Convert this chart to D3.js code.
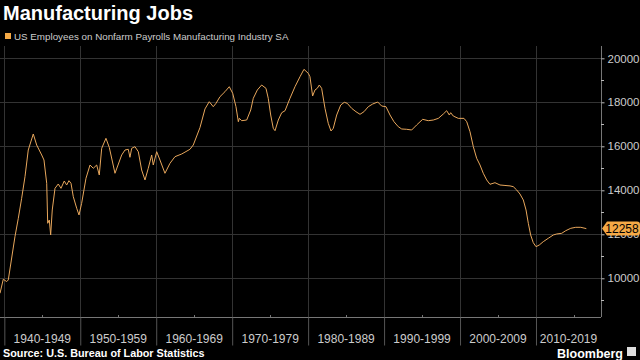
<!DOCTYPE html>
<html><head><meta charset="utf-8">
<script src="https://cdn.jsdelivr.net/npm/d3@7"></script>
<style>
html,body{margin:0;padding:0;background:#000;}
svg{display:block;}
</style></head>
<body>
<svg id="chart" width="640" height="360"></svg>
<script>
const title = "Manufacturing Jobs";
const seriesName = "US Employees on Nonfarm Payrolls Manufacturing Industry SA";
const source = "Source: U.S. Bureau of Labor Statistics";
const lastLabel = "12258";

const years = [1939.43,1939.86,1940.31,1940.52,1941.40,1941.84,1942.28,1942.72,1943.15,1943.81,1944.26,1944.92,1945.22,1945.58,1945.71,1945.92,1946.10,1946.31,1946.67,1947.10,1947.46,1947.89,1948.21,1948.51,1948.78,1949.08,1949.53,1949.83,1950.18,1950.75,1951.28,1951.71,1952.16,1952.50,1952.82,1953.38,1953.82,1954.57,1955.45,1955.89,1956.32,1956.54,1956.77,1957.20,1957.64,1958.08,1958.52,1958.95,1959.40,1959.61,1960.06,1960.49,1961.15,1961.81,1962.47,1963.35,1964.44,1964.88,1965.76,1966.42,1966.98,1967.51,1967.87,1968.39,1969.05,1969.62,1970.07,1970.50,1970.81,1970.94,1971.25,1971.91,1972.44,1972.78,1973.31,1973.88,1974.45,1974.75,1975.07,1975.41,1975.64,1976.07,1976.52,1976.96,1977.61,1978.27,1978.93,1979.45,1980.02,1980.24,1980.59,1980.90,1981.20,1981.47,1981.78,1982.22,1982.65,1983.01,1983.31,1983.76,1984.29,1984.76,1985.15,1985.73,1986.30,1986.83,1987.35,1987.92,1988.50,1989.16,1989.68,1990.25,1990.78,1991.30,1991.87,1992.32,1992.98,1993.63,1994.29,1995.08,1995.82,1996.48,1997.14,1997.80,1998.24,1998.59,1998.77,1999.11,1999.77,2000.52,2000.88,2001.31,2001.75,2002.19,2002.63,2003.06,2003.51,2003.94,2004.60,2005.26,2005.92,2006.58,2007.01,2007.46,2007.89,2008.33,2008.69,2008.99,2009.30,2009.64,2010.00,2010.44,2010.96,2011.62,2012.28,2012.73,2013.39,2013.92,2014.58,2015.24,2015.90,2016.63];
const employees = [9319,9955,9850,9924,11892,12727,13636,14618,15832,16560,16059,15605,15378,14318,12500,12650,11969,13105,14090,14287,14090,14423,14240,14437,14318,13709,13182,12878,13409,14546,15150,15000,15150,14696,15909,16364,15950,14773,15605,15832,15864,15500,15909,15982,15755,14923,14469,15000,15605,15150,15755,15378,14773,15227,15529,15650,15864,16060,16850,17700,18028,17800,17955,18255,18482,18710,18409,17800,17118,17270,17165,17195,17650,18182,18560,18787,18636,18182,17423,16818,16710,17195,17527,17618,18182,18710,19164,19500,19318,19164,18286,18560,18636,18787,18636,17727,17045,16696,16818,17423,17877,18000,17955,17727,17573,17455,17573,17800,17923,18014,17832,17800,17423,17118,16890,16787,16773,16741,16970,17227,17165,17195,17270,17468,17618,17423,17527,17377,17270,17270,17118,16664,15982,15455,15150,14773,14469,14273,14346,14241,14220,14200,14165,14014,13832,13560,13105,12500,11969,11620,11437,11514,11665,11818,11969,12014,12045,12164,12273,12318,12318,12258];

const decadeStarts = [1940,1950,1960,1970,1980,1990,2000,2010];
const decadeLabels = ["1940-1949","1950-1959","1960-1969","1970-1979","1980-1989","1990-1999","2000-2009","2010-2019"];
const yTicks = [10000,12000,14000,16000,18000,20000];
const yMinorTicks = [9000,11000,13000,15000,17000,19000];

const svg = d3.select("#chart");
const L = 0, R = 601, T = 46, B = 317;
const x = d3.scaleLinear().domain([1939.43, 2018.56]).range([L, R]);
const y = d3.scaleLinear().domain([8240, 20560]).range([B, T]);
const FONT = "Liberation Sans, Arial, sans-serif";

svg.append("rect").attr("width",640).attr("height",360).attr("fill","#000");

// grid
const g = svg.append("g");
g.selectAll(".hg").data(yTicks).join("line")
  .attr("x1",L).attr("x2",R).attr("y1",d=>Math.round(y(d))+0.5).attr("y2",d=>Math.round(y(d))+0.5)
  .attr("stroke","#333").attr("stroke-width",1);
g.selectAll(".vg").data(decadeStarts).join("line")
  .attr("x1",d=>Math.round(x(d))+0.5).attr("x2",d=>Math.round(x(d))+0.5).attr("y1",T).attr("y2",B)
  .attr("stroke","#333").attr("stroke-width",1);

// x axis
const xAxis = d3.axisBottom(x).tickValues(decadeStarts).tickSize(28).tickFormat("");
const xg = svg.append("g").attr("transform",`translate(0,${B+0.5})`).call(xAxis);
xg.select(".domain").attr("stroke","#777").attr("d",`M${L},0H${R}`);
xg.selectAll(".tick line").attr("stroke","#555");
const mid = decadeStarts.map(d=>d+5);
svg.selectAll(".mt").data(mid).join("line")
  .attr("x1",d=>Math.round(x(d))+0.5).attr("x2",d=>Math.round(x(d))+0.5)
  .attr("y1",B-2).attr("y2",B).attr("stroke","#777");
const xmax = x.domain()[1];
svg.selectAll(".xl").data(decadeStarts).join("text")
  .attr("x",(d)=>(x(Math.max(d,x.domain()[0]))+x(Math.min(d+10,xmax)))/2)
  .attr("y",343).attr("text-anchor","middle")
  .attr("fill","#ccc").attr("font-family",FONT).attr("font-size",12)
  .text((d,i)=>decadeLabels[i]);

// y axis
const yAxis = d3.axisRight(y).tickValues(yTicks).tickSize(3).tickPadding(3).tickFormat(d3.format("d"));
const yg = svg.append("g").attr("transform",`translate(${R+0.5},0)`).call(yAxis);
yg.select(".domain").attr("stroke","#777").attr("d",`M0,${T}V${B}`);
yg.selectAll(".tick line").attr("stroke","#bbb");
yg.selectAll(".tick text").attr("fill","#ccc").attr("font-family",FONT).attr("font-size",11.5);
svg.selectAll(".ymt").data(yMinorTicks).join("line")
  .attr("x1",R).attr("x2",R+3).attr("y1",d=>Math.round(y(d))+0.5).attr("y2",d=>Math.round(y(d))+0.5)
  .attr("stroke","#bbb");

// line
const data = years.map((yr,i)=>({yr, v:employees[i]}));
svg.append("path").datum(data)
  .attr("d", d3.line().x(d=>x(d.yr)).y(d=>y(d.v)).curve(d3.curveLinear))
  .attr("fill","none").attr("stroke","#e8a75c").attr("stroke-width",1).attr("stroke-linejoin","round");

// last value tag
const lv = employees[employees.length-1];
const ty = y(lv);
const tag = svg.append("g");
tag.append("path")
  .attr("d",`M${R+1},${ty} L${R+6},${ty-7} H${637} Q${640},${ty-7} ${640},${ty-4} V${ty+4} Q${640},${ty+7} ${637},${ty+7} H${R+6} Z`)
  .attr("fill","#f5a946");
tag.append("text").attr("x",622).attr("y",ty+4.5).attr("text-anchor","middle")
  .attr("fill","#000").attr("font-family",FONT).attr("font-size",12)
  .text(lastLabel);

// title & legend
svg.append("text").attr("x",3).attr("y",20).attr("fill","#fff")
  .attr("font-family",FONT).attr("font-weight","bold").attr("font-size",20)
  .text(title);
svg.append("rect").attr("x",5).attr("y",33).attr("width",6).attr("height",6).attr("fill","#f5a946");
svg.append("text").attr("x",14).attr("y",39.5).attr("fill","#ccc")
  .attr("font-family",FONT).attr("font-size",9.8)
  .text(seriesName);

// source & brand
svg.append("text").attr("x",3).attr("y",357).attr("fill","#fff")
  .attr("font-family",FONT).attr("font-weight","bold").attr("font-size",10.8)
  .text(source);
svg.append("text").attr("x",623).attr("y",358).attr("text-anchor","end").attr("fill","#fff")
  .attr("font-family",FONT).attr("font-weight","bold").attr("font-size",12.5)
  .text("Bloomberg");
svg.append("rect").attr("x",627).attr("y",347).attr("width",9).attr("height",9).attr("fill","#ddd");
</script>
</body></html>
